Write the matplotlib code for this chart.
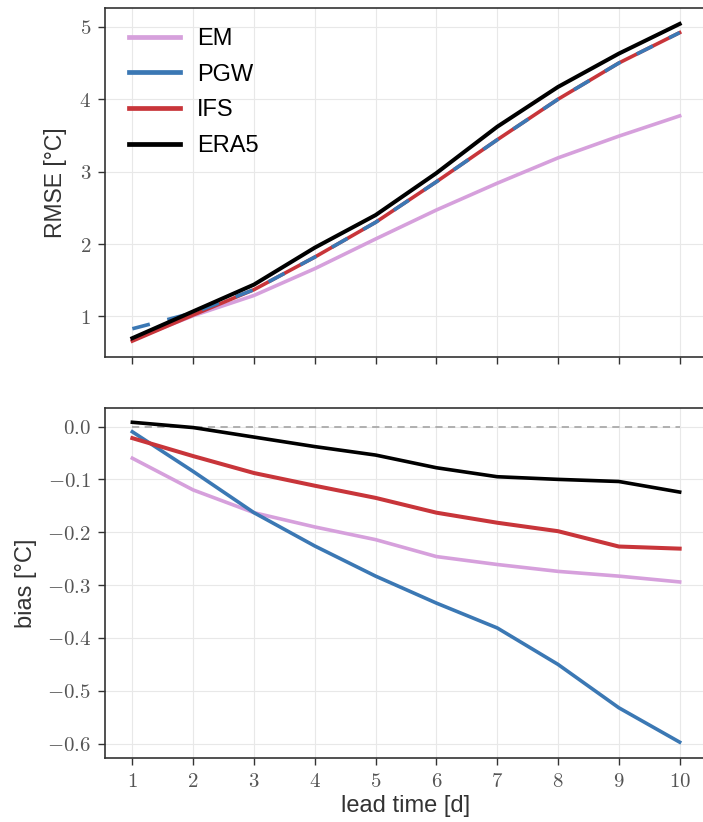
import matplotlib
matplotlib.use("Agg")
from matplotlib import pyplot as plt
from matplotlib.ticker import FuncFormatter
from matplotlib.lines import Line2D

plt.rcParams['font.family'] = ['Liberation Sans', 'DejaVu Sans']
plt.rcParams['mathtext.fontset'] = 'cm'

lead = [1, 2, 3, 4, 5, 6, 7, 8, 9, 10]

rmse_em = [0.68, 1.01, 1.29, 1.66, 2.07, 2.47, 2.84, 3.19, 3.49, 3.77]
rmse_pgw = [0.83, 1.05, 1.37, 1.82, 2.30, 2.86, 3.44, 4.00, 4.50, 4.92]
rmse_ifs = [0.66, 1.02, 1.37, 1.82, 2.30, 2.86, 3.44, 4.00, 4.50, 4.92]
rmse_era5 = [0.70, 1.07, 1.44, 1.95, 2.40, 2.98, 3.62, 4.17, 4.63, 5.04]

bias_em = [-0.060, -0.120, -0.163, -0.190, -0.214, -0.246, -0.261, -0.274, -0.283, -0.294]
bias_pgw = [-0.010, -0.085, -0.163, -0.226, -0.283, -0.334, -0.381, -0.450, -0.532, -0.597]
bias_ifs = [-0.022, -0.056, -0.088, -0.112, -0.135, -0.163, -0.182, -0.198, -0.227, -0.231]
bias_era5 = [0.008, -0.002, -0.020, -0.038, -0.054, -0.078, -0.095, -0.100, -0.104, -0.124]

c_em = '#d6a0dc'
c_pgw = '#3b78b4'
c_ifs = '#c8353a'
c_era5 = 'black'
lw = 2.6

fig = plt.figure(figsize=(7.03, 8.22), dpi=100)
ax1 = fig.add_axes([105 / 703, 1 - 357 / 822, (707 - 105) / 703, 349 / 822])
ax2 = fig.add_axes([105 / 703, 1 - 758 / 822, (707 - 105) / 703, 350 / 822], sharex=ax1)

# top: RMSE (PGW dashed on top of IFS, both nearly identical)
ax1.plot(lead, rmse_em, color=c_em, lw=lw, zorder=3)
ax1.plot(lead, rmse_ifs, color=c_ifs, lw=lw, zorder=4)
ax1.plot(lead, rmse_pgw, color=c_pgw, lw=lw, ls=(0, (5, 5)), zorder=5)
ax1.plot(lead, rmse_era5, color=c_era5, lw=lw + 0.3, zorder=6)

# bottom: bias
ax2.plot([1, 10], [0, 0], color='#aaaaaa', lw=1.3, ls=(0, (4, 3)), zorder=2)
ax2.plot(lead, bias_em, color=c_em, lw=lw, zorder=3)
ax2.plot(lead, bias_pgw, color=c_pgw, lw=lw, zorder=4)
ax2.plot(lead, bias_ifs, color=c_ifs, lw=lw + 0.3, zorder=5)
ax2.plot(lead, bias_era5, color=c_era5, lw=lw, zorder=6)

handles = [Line2D([], [], color=c, lw=3.4) for c in (c_em, c_pgw, c_ifs, c_era5)]
ax1.legend(handles, ['EM', 'PGW', 'IFS', 'ERA5'], loc='upper left', frameon=False,
           fontsize=17, handlelength=2.15, handletextpad=0.7, labelspacing=0.58,
           borderaxespad=0.0, bbox_to_anchor=(0.025, 0.97))

ax1.set_xlim(0.55, 10.45)
ax1.set_xticks(lead)
ax1.set_ylim(0.44, 5.26)
ax1.set_yticks([1, 2, 3, 4, 5])
ax1.yaxis.set_major_formatter(FuncFormatter(lambda v, p: '$%d$' % v))
ax2.set_ylim(-0.627, 0.035)
ax2.set_yticks([0.0, -0.1, -0.2, -0.3, -0.4, -0.5, -0.6])
ax2.yaxis.set_major_formatter(FuncFormatter(lambda v, p: '$%.1f$' % v if abs(v) > 1e-9 else '$0.0$'))
ax2.xaxis.set_major_formatter(FuncFormatter(lambda v, p: '$%d$' % v))
plt.setp(ax1.get_xticklabels(), visible=False)

for ax in (ax1, ax2):
    ax.grid(True, color='#e8e8e8', lw=0.8)
    ax.set_axisbelow(True)
    ax.tick_params(direction='out', length=5, width=1, pad=5, colors='#333333',
                   labelsize=15, labelcolor='#555555')
    for s in ax.spines.values():
        s.set_color('#333333')
        s.set_linewidth(1.2)

ax1.set_ylabel('RMSE [°C]', fontsize=16.5, color='#333333', labelpad=9)
ax2.set_ylabel('bias [°C]', fontsize=17, color='#333333', labelpad=7)
ax2.set_xlabel('lead time [d]', fontsize=17, color='#333333', labelpad=3)

fig.savefig('out.png', dpi=100)
